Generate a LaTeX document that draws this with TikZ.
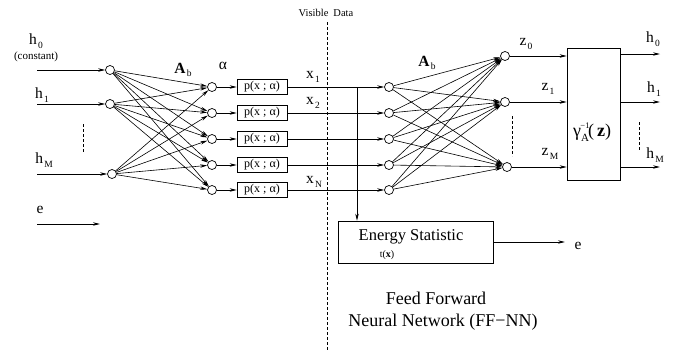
\documentclass[tikz,border=0pt]{standalone}
\usepackage{fontspec}
\setmainfont{Liberation Serif}
\usetikzlibrary{arrows.meta}
\newcommand{\lsub}[1]{\hspace{1.2pt}\raisebox{-0.5ex}{\fontsize{9.5}{9.5}\selectfont #1}}
\begin{document}
\begin{tikzpicture}[x=1pt,y=-1pt,
  neuron/.style={circle,draw,line width=0.7pt,minimum size=9pt,inner sep=0pt,fill=white},
  arr/.style={-{Stealth[length=7pt,width=3.4pt]},line width=0.6pt},
  pbox/.style={draw,line width=0.6pt,minimum width=50pt,minimum height=15pt,inner sep=0pt,font=\fontsize{12}{12}\selectfont},
  lbl/.style={font=\fontsize{15.5}{15.5}\selectfont,inner sep=0pt},
  slbl/.style={font=\fontsize{11}{11}\selectfont,inner sep=0pt},
  dsh/.style={dashed,line width=0.6pt,dash pattern=on 3pt off 2pt}]
\useasboundingbox (0,0) rectangle (680,351);
% input nodes
\node[neuron] (i0) at (110,70) {};
\node[neuron] (i1) at (110,104) {};
\node[neuron] (iM) at (112,174) {};
\coordinate (s0) at (37,70);
\coordinate (s1) at (37,104);
\coordinate (sM) at (37,174);
\draw[arr] (s0) -- (i0);
\draw[arr] (s1) -- (i1);
\draw[arr] (sM) -- (iM);
\coordinate (e1) at (37,224);
\coordinate (e2) at (100,224);
\draw[arr] (e1) -- (e2);
% hidden, p boxes, right inputs
\foreach \n/\y in {1/87,2/113,3/139,4/165,5/190} {
  \node[neuron] (a\n) at (212,\y) {};
  \node[pbox] (p\n) at (262,\y) {p(x ; α)};
  \node[neuron] (r\n) at (389,\y) {};
  \draw[arr] (a\n) -- (p\n);
  \draw[arr] (p\n) -- (r\n);
}
\foreach \s in {i0,i1,iM} \foreach \n in {1,...,5} \draw[arr] (\s) -- (a\n);
% outputs z
\node[neuron] (z0) at (505,56) {};
\node[neuron] (z1) at (505,102) {};
\node[neuron] (zM) at (507,167) {};
\foreach \n in {1,...,5} \foreach \t in {z0,z1,zM} \draw[arr] (r\n) -- (\t);
% gamma box
\node[draw,line width=0.7pt,minimum width=53pt,minimum height=132pt,inner sep=0pt] (g) at (593.5,114) {};
\node[font=\fontsize{18}{18}\selectfont,inner sep=0pt] (gt) at (592,132) {γ\hspace{-0.5pt}\raisebox{-0.6ex}{\shortstack{\fontsize{8.5}{8.5}\selectfont −1\\[3pt]\fontsize{11}{11}\selectfont A}}\hspace{-1.5pt}(\,\textbf{z})};
\draw[arr] (z0) -- (z0 -| g.west);
\draw[arr] (z1) -- (z1 -| g.west);
\draw[arr] (zM) -- (zM -| g.west);
\coordinate (o0) at (660,54);
\coordinate (o1) at (660,102);
\coordinate (oM) at (660,167);
\draw[arr] (g.east |- o0) -- (o0);
\draw[arr] (g.east |- o1) -- (o1);
\draw[arr] (g.east |- oM) -- (oM);
% energy box
\node[draw,line width=0.7pt,minimum width=155pt,minimum height=42pt,inner sep=0pt] (E) at (415.5,242) {};
\node[font=\fontsize{16.5}{16.5}\selectfont,inner sep=0pt] (Et) at (411,237) {Energy Statistic};
\node[font=\fontsize{10}{10}\selectfont,inner sep=0pt] (tx) at (387,255) {t(\textbf{x})};
\coordinate (tap) at (357,87);
\draw[arr] (tap) -- (tap |- E.north);
\coordinate (eo) at (565,242);
\draw[arr] (E.east) -- (eo);
\node[lbl] (le) at (578,246) {e};
% visible data line
\draw[dsh] (327,22) -- (327,351);
\node[font=\fontsize{10.5}{10.5}\selectfont,inner sep=0pt] (vd) at (326,13) {Visible\hspace{5pt}Data};
% dashed ellipses
\draw[dsh] (83,124) -- (83,153);
\draw[dsh] (512,116) -- (512,156);
\draw[dsh] (639,122) -- (639,150);
% labels
\node[lbl] (lh0) at (36,41) {h\lsub{0}};
\node[slbl] (lc) at (36,57) {(constant)};
\node[lbl] (lh1) at (42,95) {h\lsub{1}};
\node[lbl] (lhM) at (44,160) {h\lsub{M}};
\node[lbl] (lein) at (40,210) {e};
\node[lbl] (Ab1) at (183,70) {\textbf{A}\lsub{b}};
\node[lbl] (al) at (223,66) {α};
\node[lbl] (Ab2) at (427,63) {\textbf{A}\lsub{b}};
\node[lbl] (x1) at (313,77) {x\lsub{1}};
\node[lbl] (x2) at (313,103) {x\lsub{2}};
\node[lbl] (xN) at (314,182) {x\lsub{N}};
\node[lbl] (lz0) at (526,44) {z\lsub{0}};
\node[lbl] (lz1) at (548,89) {z\lsub{1}};
\node[lbl] (lzM) at (550,154) {z\lsub{M}};
\node[lbl] (oh0) at (653,39) {h\lsub{0}};
\node[lbl] (oh1) at (654,89) {h\lsub{1}};
\node[lbl] (ohM) at (655,155) {h\lsub{M}};
\node[font=\fontsize{18}{18}\selectfont,inner sep=0pt] (ff1) at (436,298) {Feed Forward};
\node[font=\fontsize{18}{18}\selectfont,inner sep=0pt] (ff2) at (443,322) {Neural Network (FF−NN)};
\end{tikzpicture}
\end{document}
